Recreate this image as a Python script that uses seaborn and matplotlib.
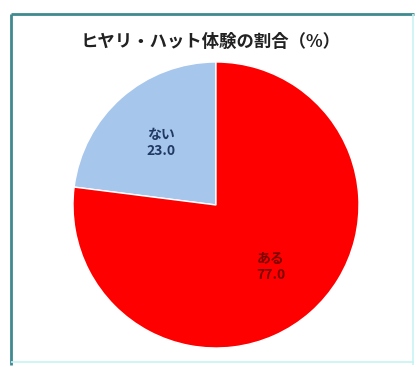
import matplotlib
matplotlib.use("Agg")
import matplotlib.pyplot as plt
from matplotlib.lines import Line2D
import seaborn as sns

# Share of respondents with a near-miss ("hiyari-hatto") experience
categories = ["ない", "ある"]
values = [23.0, 77.0]
slice_colors = ["#a7c6eb", "#ff0000"]
label_colors = ["#1f3864", "#7a0000"]
title = "ヒヤリ・ハット体験の割合（%）"

sns.set_theme(style="white")
plt.rcParams["font.family"] = ["Noto Sans CJK JP", "DejaVu Sans"]

W, H = 417, 367
fig = plt.figure(figsize=(W / 100, H / 100), dpi=100)
fig.patch.set_facecolor("white")

# Frame around the chart area
def px_line(x0, y0, x1, y1, color, lw):
    fig.add_artist(Line2D([x0 / W, x1 / W], [1 - y0 / H, 1 - y1 / H],
                          transform=fig.transFigure, color=color, lw=lw,
                          solid_capstyle="butt"))

px_line(11, 14, 414, 14, "#3d8a90", 2.0)
px_line(11, 14, 11, 365, "#3d8a90", 2.0)
px_line(413, 14, 413, 365, "#c8f2f4", 1.2)
px_line(11, 362, 414, 362, "#c8f2f4", 1.2)

# Pie axes: centre (216, 205) px, radius 143 px
cx, cy, r = 216, 205, 143
ax = fig.add_axes([(cx - r) / W, 1 - (cy + r) / H, 2 * r / W, 2 * r / H])
wedges, texts = ax.pie(
    values,
    labels=[f"{c}\n{v:.1f}" for c, v in zip(categories, values)],
    colors=slice_colors,
    startangle=90,
    counterclock=True,
    labeldistance=0.58,
    radius=1.0,
    wedgeprops=dict(edgecolor="white", linewidth=1.0),
    textprops=dict(fontsize=10, fontweight="bold", ha="center", va="center",
                   linespacing=1.2),
)
for t, c in zip(texts, label_colors):
    t.set_color(c)
ax.set_xlim(-1, 1)
ax.set_ylim(-1, 1)
ax.set_aspect("equal")
ax.axis("off")

fig.text(0.505, 1 - 42 / H, title, ha="center", va="center",
         fontsize=12.5, fontweight="bold", color="#222222")

fig.savefig("out.png", dpi=100, facecolor=fig.get_facecolor())
